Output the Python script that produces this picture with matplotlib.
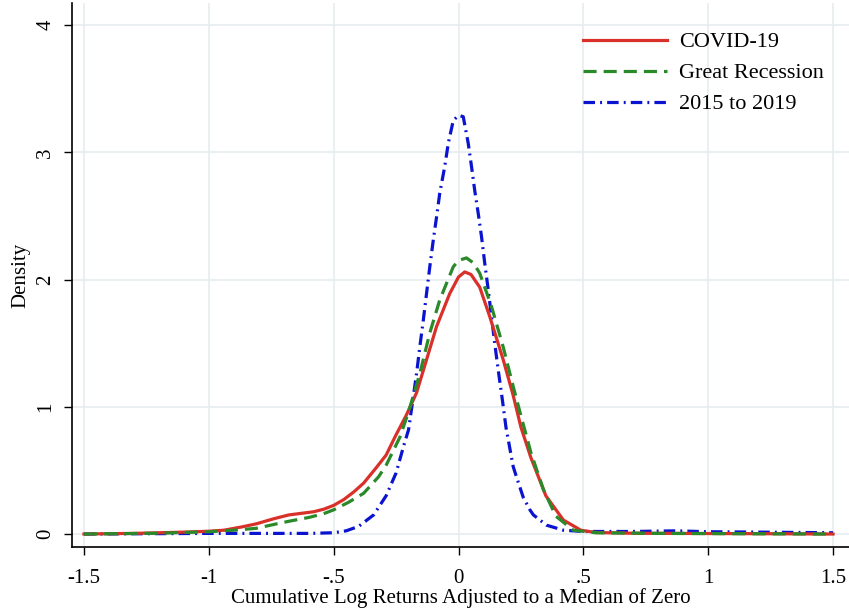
import matplotlib
matplotlib.use("Agg")
import matplotlib.pyplot as plt

# ---- data ----
covid_x = [-1.5, -1.3, -1.1, -1.0, -0.94, -0.87, -0.81, -0.74, -0.68, -0.62, -0.58, -0.54,
           -0.5, -0.46, -0.42, -0.38, -0.33, -0.29, -0.25, -0.21, -0.168, -0.128, -0.088,
           -0.035, 0.0, 0.025, 0.05, 0.085, 0.125, 0.179, 0.219, 0.25, 0.29, 0.35, 0.42,
           0.49, 0.55, 0.7, 1.0, 1.3, 1.5]
covid_y = [0.0, 0.005, 0.015, 0.022, 0.03, 0.055, 0.08, 0.12, 0.15, 0.165, 0.175, 0.195,
           0.225, 0.27, 0.33, 0.40, 0.52, 0.62, 0.78, 0.93, 1.11, 1.37, 1.63,
           1.89, 2.02, 2.06, 2.04, 1.94, 1.71, 1.37, 1.09, 0.84, 0.60, 0.30, 0.11,
           0.03, 0.012, 0.006, 0.004, 0.002, 0.0]

recession_x = [-1.5, -1.2, -1.0, -0.9, -0.81, -0.74, -0.68, -0.6, -0.54, -0.5, -0.44,
               -0.38, -0.32, -0.29, -0.26, -0.235, -0.2, -0.155, -0.115, -0.075, -0.021,
               0.0, 0.032, 0.06, 0.085, 0.132, 0.179, 0.219, 0.25, 0.29, 0.34, 0.39,
               0.46, 0.55, 0.8, 1.2, 1.5]
recession_y = [0.0, 0.006, 0.018, 0.03, 0.045, 0.075, 0.10, 0.13, 0.16, 0.19, 0.25,
               0.32, 0.45, 0.54, 0.66, 0.76, 0.96, 1.26, 1.58, 1.84, 2.10,
               2.15, 2.17, 2.13, 2.05, 1.79, 1.47, 1.16, 0.93, 0.64, 0.35, 0.14,
               0.03, 0.01, 0.005, 0.002, 0.0]

base_x = [-1.5, -1.0, -0.6, -0.5, -0.45, -0.4, -0.34, -0.29, -0.25, -0.22, -0.2, -0.181,
          -0.168, -0.155, -0.141, -0.128, -0.115, -0.101, -0.088, -0.075, -0.055, -0.041,
          -0.021, 0.0, 0.019, 0.039, 0.052, 0.065, 0.079, 0.092, 0.105, 0.119, 0.132,
          0.145, 0.159, 0.176, 0.19, 0.219, 0.232, 0.259, 0.286, 0.3, 0.352, 0.42, 0.5,
          0.7, 0.87, 1.0, 1.2, 1.5]
base_y = [0.0, 0.005, 0.005, 0.01, 0.025, 0.06, 0.15, 0.30, 0.48, 0.69, 0.82, 1.08,
          1.26, 1.47, 1.68, 1.89, 2.10, 2.31, 2.49, 2.68, 2.89, 3.07,
          3.25, 3.29, 3.28, 3.07, 2.89, 2.70, 2.52, 2.34, 2.13, 1.92, 1.71,
          1.50, 1.29, 1.05, 0.84, 0.53, 0.45, 0.29, 0.19, 0.15, 0.07, 0.03, 0.02,
          0.02, 0.025, 0.018, 0.015, 0.01]

x_ticks = [-1.5, -1.0, -0.5, 0.0, 0.5, 1.0, 1.5]
x_tick_labels = ["-1.5", "-1", "-.5", "0", ".5", "1", "1.5"]
y_ticks = [0, 1, 2, 3, 4]
y_tick_labels = ["0", "1", "2", "3", "4"]
series_labels = ["COVID-19", "Great Recession", "2015 to 2019"]

# ---- plot ----
plt.rcParams['font.family'] = ['Liberation Serif', 'DejaVu Serif']
fig = plt.figure(figsize=(8.49, 6.09), dpi=100)
ax = fig.add_axes([0.0848, 0.1018, 0.9152, 0.8932])

grid_c = "#e6ecf0"
for t in x_ticks:
    ax.axvline(t, color=grid_c, lw=1.2, zorder=0)
for t in y_ticks:
    ax.axhline(t, color=grid_c, lw=1.2, zorder=0)

ax.plot(covid_x, covid_y, color="#d9302a", lw=2.3, label=series_labels[0], zorder=3)
ax.plot(recession_x, recession_y, color="#2a8a2a", lw=2.3, dashes=(4.1, 2.2),
        label=series_labels[1], zorder=3)
ax.plot(base_x, base_y, color="#0a14d0", lw=2.3, dashes=(3.6, 1.6, 0.6, 1.6),
        label=series_labels[2], zorder=2)

ax.set_xlim(-1.548, 1.564)
ax.set_ylim(-0.102, 4.173)
ax.set_xticks(x_ticks)
ax.set_xticklabels(x_tick_labels, fontsize=15)
ax.set_yticks(y_ticks)
ax.set_yticklabels(y_tick_labels, fontsize=15, rotation=90, va="center")
ax.tick_params(direction="out", length=6, width=1, color="black")
ax.tick_params(axis="x", pad=10)
ax.tick_params(axis="y", pad=6)
for s in ["top", "right"]:
    ax.spines[s].set_visible(False)
for s in ["left", "bottom"]:
    ax.spines[s].set_linewidth(1.2)
    ax.spines[s].set_color("black")

ax.set_xlabel("Cumulative Log Returns Adjusted to a Median of Zero", fontsize=15, labelpad=0)
ax.set_ylabel("Density", fontsize=15, labelpad=4)

leg = ax.legend(loc="upper left", bbox_to_anchor=(0.658, 0.947), frameon=False,
                fontsize=16, handlelength=3.75, handletextpad=0.55, labelspacing=0.47,
                borderpad=0, borderaxespad=0)

fig.savefig("out.png", dpi=100)
